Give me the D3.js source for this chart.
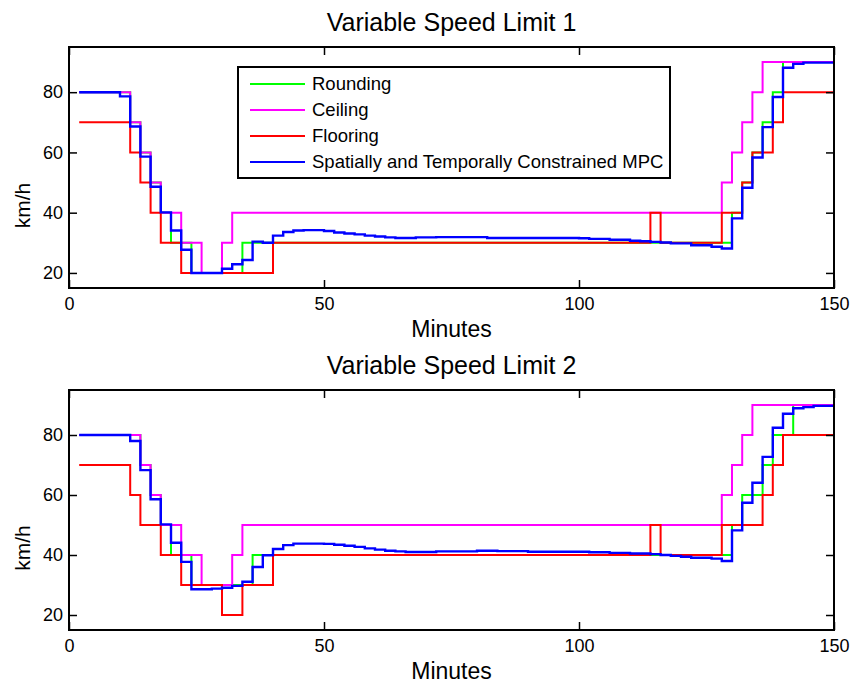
<!DOCTYPE html>
<html>
<head>
<meta charset="utf-8">
<script src="https://cdn.jsdelivr.net/npm/d3@7"></script>
<style>
  body { margin: 0; background: #fff; }
  svg text { font-family: "Liberation Sans", Arial, sans-serif; fill: #000; }
</style>
</head>
<body>
<svg id="chart"></svg>
<script>
// series names / colours
const seriesNames = ['Rounding', 'Ceiling', 'Flooring', 'Spatially and Temporally Constrained MPC'];
const seriesColors = ['#00ff00', '#ff00ff', '#ff0000', '#0000ff'];
const xTicks = [0, 50, 100, 150];
const yTicks = [20, 40, 60, 80];
const endTime = 150;

// speed limit 1 : minute where the limit changes, and new value (km/h)
const round1Time = [2, 12, 14, 16, 18, 20, 24, 34, 130, 132, 134, 136, 138, 140];
const round1Value = [80, 70, 60, 50, 40, 30, 20, 30, 40, 50, 60, 70, 80, 90];
const ceil1Time = [2, 12, 14, 16, 18, 22, 26, 30, 32, 128, 130, 132, 134, 136];
const ceil1Value = [80, 70, 60, 50, 40, 30, 20, 30, 40, 50, 60, 70, 80, 90];
const floor1Time = [2, 12, 14, 16, 18, 22, 40, 114, 116, 128, 132, 134, 138, 140];
const floor1Value = [70, 60, 50, 40, 30, 20, 30, 40, 30, 40, 50, 60, 70, 80];
const mpc1Time = [2, 10, 12, 14, 16, 18, 20, 22, 24, 30, 32, 34, 36, 38, 40, 42, 44, 46, 50, 52,
  54, 56, 58, 60, 62, 64, 68, 72, 82, 100, 102, 106, 110, 112, 114, 116, 118, 122, 126, 128,
  130, 132, 134, 136, 138, 140, 142, 144];
const mpc1Value = [80, 78.6, 68.6, 58.6, 48.6, 40.1, 34.1, 27.7, 20, 21.4, 22.9, 24.3, 30.4, 30, 32.4, 33.6, 34.1, 34.2, 33.9, 33.4,
  33.1, 32.8, 32.4, 32.1, 31.8, 31.6, 31.8, 31.9, 31.6, 31.5, 31.3, 31.0, 30.7, 30.5, 30.3, 30.1, 29.8, 29.2, 28.7, 28.1,
  38.1, 48.3, 58.3, 68.4, 78.4, 88.1, 89.4, 89.8];

// speed limit 2
const round2Time = [2, 14, 16, 18, 20, 24, 36, 130, 132, 136, 138, 142];
const round2Value = [80, 70, 60, 50, 40, 30, 40, 50, 60, 70, 80, 90];
const ceil2Time = [2, 14, 16, 18, 22, 26, 32, 34, 128, 130, 132, 134];
const ceil2Value = [80, 70, 60, 50, 40, 30, 40, 50, 60, 70, 80, 90];
const floor2Time = [2, 12, 14, 18, 22, 30, 34, 40, 114, 116, 128, 136, 138, 140];
const floor2Value = [70, 60, 50, 40, 30, 20, 30, 40, 50, 40, 50, 60, 70, 80];
const mpc2Time = [2, 12, 14, 16, 18, 20, 22, 24, 28, 30, 32, 34, 36, 38, 40, 42, 44, 50, 52, 54,
  56, 58, 60, 62, 64, 66, 72, 80, 84, 90, 102, 106, 110, 114, 116, 118, 120, 122, 126, 128,
  130, 132, 134, 136, 138, 140, 142, 144, 146];
const mpc2Value = [80, 78, 68.3, 58.6, 50.2, 44.1, 37.7, 28.6, 28.8, 29.1, 29.7, 31.1, 36, 39.9, 42, 43.3, 43.8, 43.7, 43.4, 43.1,
  42.7, 42.2, 41.8, 41.4, 41.2, 41.0, 41.2, 41.4, 41.3, 41.1, 40.9, 40.7, 40.5, 40.3, 40.0, 39.7, 39.4, 39.1, 38.8, 38.0,
  48.2, 57.4, 64.1, 72.7, 82.4, 87.1, 88.9, 89.3, 89.7];

// dimensions
const width = 853;
const height = 686;
const left = 69;
const right = 834;

const panels = [
  { title: 'Variable Speed Limit 1', top: 47, bottom: 288, legend: true,
    series: [[round1Time, round1Value], [ceil1Time, ceil1Value], [floor1Time, floor1Value], [mpc1Time, mpc1Value]] },
  { title: 'Variable Speed Limit 2', top: 390, bottom: 630, legend: false,
    series: [[round2Time, round2Value], [ceil2Time, ceil2Value], [floor2Time, floor2Value], [mpc2Time, mpc2Value]] }
];

const svg = d3.select('#chart')
  .attr('width', width)
  .attr('height', height);

// step points, held to the end of the run
const toPoints = (times, values) =>
  times.map((t, i) => [t, values[i]]).concat([[endTime, values[values.length - 1]]]);

const drawPanel = (p) => {
  const xScale = d3.scaleLinear().domain([0, 150]).range([left, right]);
  const yScale = d3.scaleLinear().domain([15, 95]).range([p.bottom, p.top]);

  const g = svg.append('g');

  // title
  g.append('text')
    .attr('x', (left + right) / 2)
    .attr('y', p.top - 16)
    .attr('text-anchor', 'middle')
    .style('font-size', '25px')
    .text(p.title);

  // lines
  const line = d3.line()
    .x((d) => xScale(d[0]))
    .y((d) => yScale(d[1]))
    .curve(d3.curveStepAfter);

  p.series.forEach((s, i) => {
    g.append('path')
      .datum(toPoints(s[0], s[1]))
      .attr('fill', 'none')
      .attr('stroke', seriesColors[i])
      .attr('stroke-width', i === 3 ? 2.4 : 2)
      .attr('d', line);
  });

  // axes, ticks pointing in on all four sides
  const axes = [
    [d3.axisBottom(xScale).tickValues(xTicks).tickPadding(9), `translate(0, ${p.bottom})`],
    [d3.axisTop(xScale).tickValues(xTicks).tickFormat(''), `translate(0, ${p.top})`],
    [d3.axisLeft(yScale).tickValues(yTicks).tickPadding(6), `translate(${left}, 0)`],
    [d3.axisRight(yScale).tickValues(yTicks).tickFormat(''), `translate(${right}, 0)`]
  ];
  axes.forEach(([axis, tr]) => {
    const a = g.append('g')
      .attr('transform', tr)
      .call(axis.tickSizeInner(-8).tickSizeOuter(0));
    a.select('.domain').remove();
    a.selectAll('line').attr('stroke', '#000').attr('stroke-width', 1.5);
    a.selectAll('text').style('font-size', '18px').style('font-family', '"Liberation Sans", Arial, sans-serif');
  });

  g.append('rect')
    .attr('x', left)
    .attr('y', p.top)
    .attr('width', right - left)
    .attr('height', p.bottom - p.top)
    .attr('fill', 'none')
    .attr('stroke', '#000')
    .attr('stroke-width', 2);

  // axis headers
  g.append('text')
    .attr('x', (left + right) / 2)
    .attr('y', p.bottom + 49)
    .attr('text-anchor', 'middle')
    .style('font-size', '23px')
    .text('Minutes');

  g.append('text')
    .attr('transform', `translate(30, ${(p.top + p.bottom) / 2 + 38}) rotate(-90)`)
    .attr('text-anchor', 'middle')
    .style('font-size', '21px')
    .text('km/h');

  if (p.legend) {
    const lg = g.append('g');
    lg.append('rect')
      .attr('x', 238)
      .attr('y', 67)
      .attr('width', 432)
      .attr('height', 111)
      .attr('fill', '#fff')
      .attr('stroke', '#000')
      .attr('stroke-width', 2);
    seriesNames.forEach((name, i) => {
      const y = 84 + i * 26;
      lg.append('line')
        .attr('x1', 250).attr('x2', 305)
        .attr('y1', y).attr('y2', y)
        .attr('stroke', seriesColors[i])
        .attr('stroke-width', 2);
      lg.append('text')
        .attr('x', 312)
        .attr('y', y)
        .attr('dy', '0.35em')
        .style('font-size', '18.5px')
        .text(name);
    });
  }
};

panels.forEach(drawPanel);
</script>
</body>
</html>
